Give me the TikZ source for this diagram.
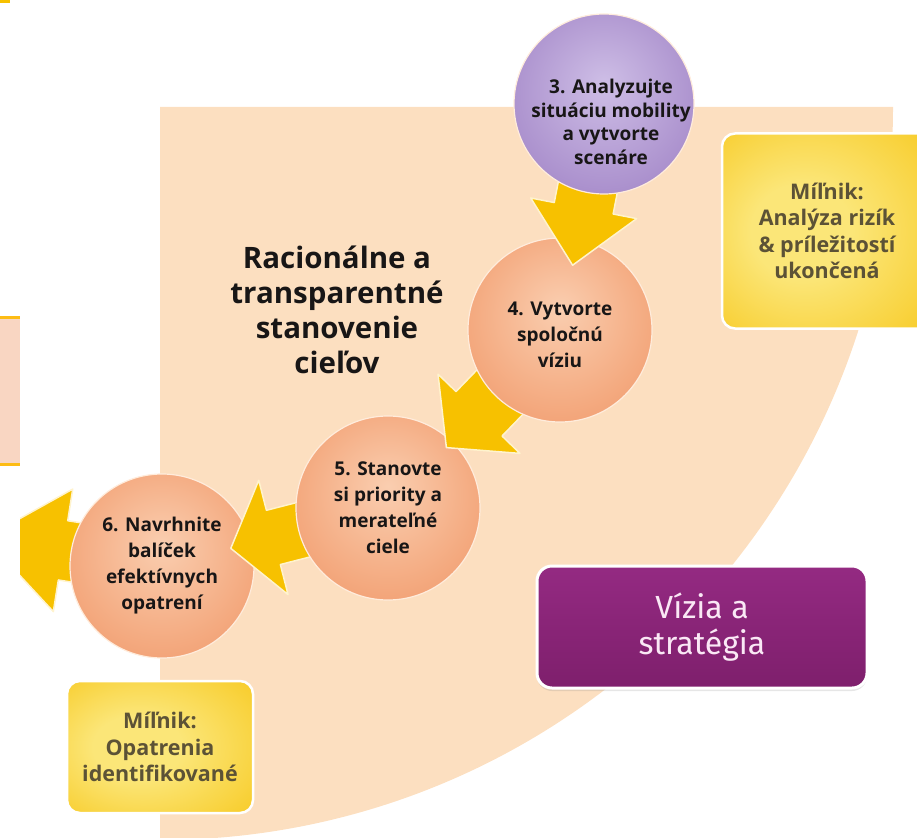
\documentclass[tikz,border=0pt]{standalone}
\usepackage{fontspec}
\setmainfont{Open Sans}
\newfontfamily\dinfont{Fira Sans}
\usetikzlibrary{calc,shadows}

\definecolor{peach}{RGB}{252,223,192}
\definecolor{sidepink}{RGB}{249,214,194}
\definecolor{sideyellow}{RGB}{253,188,20}
\definecolor{arrowyellow}{RGB}{247,193,0}
\definecolor{arrowedge}{RGB}{255,243,205}
\definecolor{halo}{RGB}{255,236,220}
\definecolor{orangeL}{RGB}{250,206,176}
\definecolor{orangeM}{RGB}{244,170,128}
\definecolor{orangeD}{RGB}{234,130,80}
\definecolor{purpleL}{RGB}{206,190,230}
\definecolor{purpleM}{RGB}{172,146,206}
\definecolor{purpleD}{RGB}{128,96,170}
\definecolor{glowL}{RGB}{251,230,120}
\definecolor{glowD}{RGB}{246,190,0}
\definecolor{milestonetext}{RGB}{92,82,54}
\definecolor{steptext}{RGB}{24,22,22}
\definecolor{visionT}{RGB}{148,42,130}
\definecolor{visionB}{RGB}{126,31,108}
\definecolor{visiontext}{RGB}{250,232,245}

\pgfdeclareradialshading{orangeball}{\pgfpoint{0bp}{6bp}}{color(0bp)=(orangeL); color(24bp)=(orangeM); color(50bp)=(orangeD)}
\pgfdeclareradialshading{purpleball}{\pgfpoint{0bp}{6bp}}{color(0bp)=(purpleL); color(26bp)=(purpleM); color(50bp)=(purpleD)}
\pgfdeclareradialshading{milestoneglow}{\pgfpoint{-8bp}{0bp}}{color(0bp)=(glowL); color(12bp)=(glowL); color(50bp)=(glowD)}

\begin{document}
\begin{tikzpicture}[x=1pt,y=-1pt,
    ball/.style={circle, minimum size=184pt, inner sep=0pt, draw=halo, line width=1.2pt,
        align=center, text=steptext, font=\fontsize{19}{26}\selectfont\bfseries},
    orangestep/.style={ball, shading=orangeball},
    purplestep/.style={ball, shading=purpleball, minimum size=180pt},
    steplabel/.style={align=center, text=steptext, font=\fontsize{19}{23.5}\selectfont\bfseries},
    arrowbody/.style={fill=arrowyellow, draw=arrowedge, line width=1.5pt, line join=round},
    milestone/.style={rounded corners=13pt, shading=milestoneglow, draw=white, line width=2.5pt,
        align=center, text=milestonetext, font=\fontsize{21.5}{26.5}\selectfont\bfseries},
    vision/.style={rounded corners=15pt, top color=visionT, bottom color=visionB, draw=white,
        line width=3pt, minimum width=330pt, minimum height=122pt, align=center,
        text=visiontext, font=\dinfont\fontsize{32}{36}\selectfont,
        drop shadow={opacity=0.2, shadow xshift=0pt, shadow yshift=-3pt}},
    goaltext/.style={align=center, text=steptext, font=\fontsize{29.5}{35}\selectfont\bfseries}
]

% === Block arrow: #1 from, #2 tip, #3 half shaft, #4 half head, #5 head length ===
\newcommand{\yarrow}[5]{%
    \coordinate (hb) at ($(#2)!#5!(#1)$);
    \filldraw[arrowbody] ($(#1)!#3!90:(#2)$) -- ($(hb)!#3!-90:(#1)$) -- ($(hb)!#4!-90:(#1)$)
        -- (#2) -- ($(hb)!#4!90:(#1)$) -- ($(hb)!#3!90:(#1)$) -- ($(#1)!#3!-90:(#2)$) -- cycle;}

\useasboundingbox (0,0) rectangle (917,837);
\clip (0,0) rectangle (917,837);

% === Background quarter disc ===
\fill[peach] (160,107) -- (893,107) arc[start angle=0, end angle=90, radius=733] -- cycle;

% Cut-off pieces at the left edge
\fill[arrowyellow] (0,0) rectangle (10,3);
\fill[sidepink] (0,317) rectangle (20,464);
\draw[sideyellow, line width=3pt] (0,317) -- (20,317);
\draw[sideyellow, line width=3pt] (0,464) -- (20,464);

% === Milestones ===
\node[milestone, minimum width=210pt, minimum height=195pt] (m1) at (827,231)
    {Míľnik:\\Analýza rizík\\\& príležitostí\\ukončená};
\node[milestone, minimum width=186pt, minimum height=132pt] (m2) at (160,747)
    {Míľnik:\\Opatrenia\\identifikované};

% === Step centres ===
\coordinate (p3) at (604,104);
\coordinate (p4) at (560,330);
\coordinate (p5) at (388,508);
\coordinate (p6) at (162,566);
\coordinate (exit) at (-15,538);

% === Steps and arrows, back to front ===
\begin{scope}
    \clip (20,0) rectangle (917,837);
    \yarrow{p6}{exit}{30pt}{62pt}{79pt}
\end{scope}
\node[orangestep] (c6) at (p6) {6. Navrhnite\\balíček\\efektívnych\\opatrení};

\coordinate (tip56) at ($(c6.center)!71pt!(p5)$);
\yarrow{p5}{tip56}{28pt}{59pt}{44pt}
\node[orangestep] (c5) at (p5) {5. Stanovte\\si priority a\\merateľné\\ciele};

\coordinate (tip45) at ($(c5.center)!84pt!(p4)$);
\yarrow{p4}{tip45}{32pt}{57pt}{47pt}
\node[orangestep] (c4) at (p4) {\\[-2pt]4. Vytvorte\\spoločnú\\víziu};

\coordinate (tip34) at ($(c4.center)!66pt!(p3)$);
\yarrow{p3}{tip34}{30pt}{54pt}{58pt}
\node[purplestep] (c3) at (p3) {};
\node[steplabel] (t3) at (611,122) {3. Analyzujte\\situáciu mobility\\a vytvorte\\scenáre};

% === Title and phase ===
\node[goaltext] (goal) at (337,310) {Racionálne a\\transparentné\\stanovenie\\cieľov};
\node[vision] (vis) at (702,627) {Vízia a\\stratégia};

\end{tikzpicture}
\end{document}
